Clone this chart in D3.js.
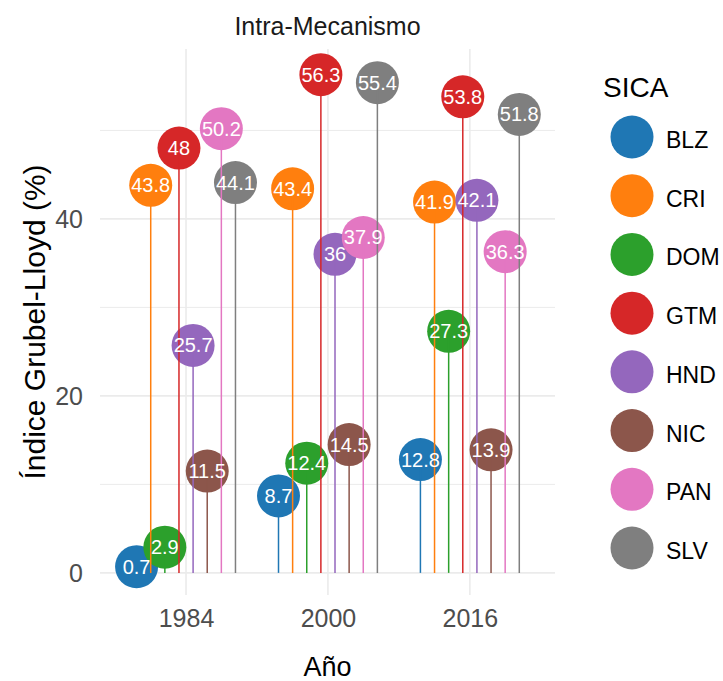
<!DOCTYPE html>
<html>
<head>
<meta charset="utf-8">
<script src="https://cdn.jsdelivr.net/npm/d3@7"></script>
<style>
  body { margin: 0; background: #fff; }
  text { font-family: "Liberation Sans", Arial, sans-serif; }
</style>
</head>
<body>
<div id="chart"></div>
<script>
// data
var years = [1984, 2000, 2016];
var countries = ["BLZ", "CRI", "DOM", "GTM", "HND", "NIC", "PAN", "SLV"];
var colors = ["#1f77b4", "#ff7f0e", "#2ca02c", "#d62728", "#9467bd", "#8c564b", "#e377c2", "#7f7f7f"];
var blz = [0.7, 8.7, 12.8];
var cri = [43.8, 43.4, 41.9];
var dom = [2.9, 12.4, 27.3];
var gtm = [48, 56.3, 53.8];
var hnd = [25.7, 36, 42.1];
var nic = [11.5, 14.5, 13.9];
var pan = [50.2, 37.9, 36.3];
var slv = [44.1, 55.4, 51.8];
var yTicks = [0, 20, 40];

var series = [blz, cri, dom, gtm, hnd, nic, pan, slv];
var data = [];
countries.forEach(function(c, i) {
  years.forEach(function(yr, j) {
    data.push({pais: c, year: yr, value: series[i][j]});
  });
});

var width = 723, height = 681;
var panel = {left: 100, right: 555, top: 49, bottom: 595};

var svg = d3.select("#chart")
  .append("svg")
    .attr("width", width)
    .attr("height", height);

var x = d3.scaleLinear()
  .domain([1974.3, 2025.6])
  .range([panel.left, panel.right]);

var y = d3.scaleLinear()
  .domain([-2.5, 59.2])
  .range([panel.bottom, panel.top]);

// dodge inside each year (in years)
var dodge = d3.scaleBand()
  .domain(countries)
  .range([-6.37, 6.37]);

var color = d3.scaleOrdinal().domain(countries).range(colors);

function xpos(d) { return x(d.year + dodge(d.pais) + dodge.bandwidth() / 2); }

// grid
svg.append("g")
  .selectAll("line")
  .data(d3.range(0, 60, 10))
  .enter().append("line")
    .attr("x1", panel.left)
    .attr("x2", panel.right)
    .attr("y1", function(d) { return y(d); })
    .attr("y2", function(d) { return y(d); })
    .attr("stroke", "#ebebeb")
    .attr("stroke-width", function(d) { return d % 20 == 0 ? 1.6 : 1; });

svg.append("g")
  .selectAll("line")
  .data(years)
  .enter().append("line")
    .attr("x1", function(d) { return x(d); })
    .attr("x2", function(d) { return x(d); })
    .attr("y1", panel.top)
    .attr("y2", panel.bottom)
    .attr("stroke", "#ebebeb")
    .attr("stroke-width", 1.6);

// points
svg.append("g")
  .selectAll("circle")
  .data(data)
  .enter().append("circle")
    .attr("cx", xpos)
    .attr("cy", function(d) { return y(d.value); })
    .attr("r", 21.5)
    .attr("fill", function(d) { return color(d.pais); });

// stems (drawn over the points, like the original)
svg.append("g")
  .selectAll("line")
  .data(data)
  .enter().append("line")
    .attr("x1", xpos)
    .attr("x2", xpos)
    .attr("y1", y(0))
    .attr("y2", function(d) { return y(d.value); })
    .attr("stroke", function(d) { return color(d.pais); })
    .attr("stroke-width", 1.5);

// value labels
svg.append("g")
  .selectAll("text")
  .data(data)
  .enter().append("text")
    .attr("x", xpos)
    .attr("y", function(d) { return y(d.value) + 7; })
    .attr("text-anchor", "middle")
    .attr("fill", "white")
    .style("font-size", "20px")
    .text(function(d) { return d.value; });

// axes (no lines, just labels)
var xAxis = svg.append("g")
  .attr("transform", "translate(0," + panel.bottom + ")")
  .call(d3.axisBottom(x).tickValues(years).tickFormat(d3.format("d")).tickSize(0).tickPadding(14));
var yAxis = svg.append("g")
  .attr("transform", "translate(" + panel.left + ",0)")
  .call(d3.axisLeft(y).tickValues(yTicks).tickSize(0).tickPadding(17));
[xAxis, yAxis].forEach(function(a) {
  a.select(".domain").remove();
  a.selectAll("text")
    .attr("fill", "#4d4d4d")
    .style("font-size", "25px")
    .style("font-family", '"Liberation Sans", Arial, sans-serif');
});
yAxis.selectAll("text").attr("dy", "0.36em");
xAxis.selectAll("text").attr("dy", "0.72em");

// titles
svg.append("text")
  .attr("x", (panel.left + panel.right) / 2)
  .attr("y", 35)
  .attr("text-anchor", "middle")
  .attr("fill", "#1a1a1a")
  .style("font-size", "25px")
  .text("Intra-Mecanismo");

svg.append("text")
  .attr("x", (panel.left + panel.right) / 2)
  .attr("y", 676)
  .attr("text-anchor", "middle")
  .style("font-size", "27px")
  .text("Año");

svg.append("text")
  .attr("transform", "translate(45," + (panel.top + panel.bottom) / 2 + ") rotate(-90)")
  .attr("text-anchor", "middle")
  .style("font-size", "30px")
  .text("Índice Grubel-Lloyd (%)");

// legend
var legend = svg.append("g");
legend.append("text")
  .attr("x", 603)
  .attr("y", 97)
  .style("font-size", "28px")
  .text("SICA");

var rowY = d3.scalePoint()
  .domain(countries)
  .range([137, 548]);

var item = legend.selectAll(".item")
  .data(countries)
  .enter().append("g")
    .attr("class", "item")
    .attr("transform", function(d) { return "translate(0," + rowY(d) + ")"; });
item.append("circle")
  .attr("cx", 632)
  .attr("r", 21.5)
  .attr("fill", function(d) { return color(d); });
item.append("text")
  .attr("x", 666)
  .attr("y", 11)
  .style("font-size", "23px")
  .text(function(d) { return d; });
</script>
</body>
</html>
